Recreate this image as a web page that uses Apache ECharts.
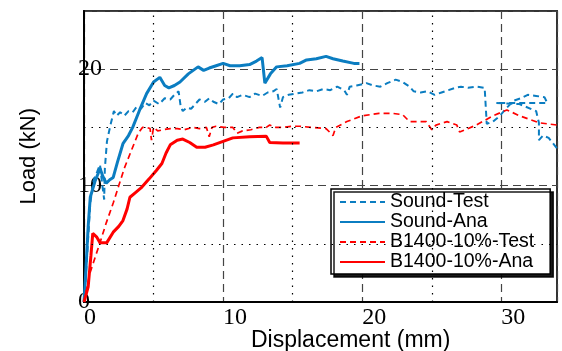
<!DOCTYPE html>
<html>
<head>
<meta charset="utf-8">
<script src="https://cdn.jsdelivr.net/npm/echarts@6/dist/echarts.min.js"></script>
<style>
  html, body { margin: 0; padding: 0; background: #fff; }
  #chart { width: 562px; height: 351px; }
</style>
</head>
<body>
<div id="chart"></div>
<script>
// 图例名称
const seriesNames = ['Sound-Test', 'Sound-Ana', 'B1400-10%-Test', 'B1400-10%-Ana']

// 轴刻度
const xTicks = [0, 10, 20, 30]
const yTicks = [0, 10, 20]
// 次网格线(点线)
const xMinorGrid = [5, 15, 25]
const yMinorGrid = [5, 15]

// Sound-Test  [位移 mm, 荷载 kN]
const soundTest = [
  [0, 0], [0.2, 3.5], [0.45, 8.5], [0.7, 10.5], [0.95, 11.2], [1.15, 11.8], [1.3, 10.2], [1.45, 8.8],
  [1.5, 11.5], [1.65, 13.8], [1.9, 15.2], [2.15, 16.4], [2.35, 16.0], [2.6, 16.3], [2.9, 16.0],
  [3.2, 16.4], [3.5, 16.3], [3.8, 16.8], [4.1, 16.6], [4.4, 17.1], [4.7, 16.9], [5.0, 17.3],
  [5.4, 17.0], [5.8, 17.5], [6.2, 17.4], [6.5, 17.8], [6.8, 18.1], [6.95, 16.8], [7.1, 16.4],
  [7.4, 16.7], [7.7, 16.6], [8.0, 17.0], [8.3, 17.4], [8.7, 17.2], [9.0, 17.5], [9.3, 17.2],
  [9.7, 17.0], [10.0, 17.4], [10.4, 17.5], [10.7, 17.9], [11.0, 17.6], [11.4, 17.8], [11.9, 17.6],
  [12.3, 17.9], [12.8, 17.7], [13.2, 18.0], [13.6, 18.1], [13.85, 18.3], [14.1, 16.7], [14.3, 17.6],
  [14.7, 17.8], [15.2, 17.9], [15.7, 18.0], [16.2, 18.2], [16.7, 18.1], [17.2, 18.3], [17.7, 18.2],
  [18.2, 18.5], [18.7, 18.2], [18.9, 17.8], [19.1, 18.5], [19.6, 18.6], [20.3, 18.8], [20.8, 18.6],
  [21.3, 18.5], [21.8, 18.8], [22.4, 19.1], [22.9, 18.9], [23.4, 18.5], [23.7, 18.1], [24.2, 18.0],
  [24.7, 18.1], [25.2, 17.8], [25.7, 18.0], [26.2, 18.2], [26.7, 18.4], [27.1, 18.5], [27.6, 18.4],
  [28.2, 18.5], [28.8, 18.4], [28.95, 15.3], [29.4, 15.5], [29.9, 16.0], [30.4, 16.7], [30.9, 17.3],
  [31.4, 17.5], [31.9, 17.8], [32.5, 17.7], [33.1, 17.6], [33.3, 17.1], [29.6, 17.1], [31.3, 17.0],
  [32.5, 16.4], [32.7, 15.4], [32.7, 13.9], [33.0, 14.3], [33.4, 14.1], [34, 13.2]
]

// Sound-Ana
const soundAna = [
  [0, 0], [0.1, 2], [0.3, 6.5], [0.45, 9.0], [0.6, 9.6], [0.8, 10.4], [1.0, 11.0], [1.15, 11.5],
  [1.35, 10.8], [1.6, 10.2], [1.85, 10.5], [2.1, 10.7], [2.4, 12.0], [2.8, 13.6], [3.2, 14.3],
  [3.5, 15.0], [4.0, 16.5], [4.5, 17.9], [5.0, 18.9], [5.45, 19.3], [5.8, 18.6], [6.1, 18.4],
  [6.5, 18.6], [6.9, 18.9], [7.5, 19.6], [8.2, 20.2], [8.6, 19.9], [9.0, 20.1], [9.5, 20.3],
  [10.0, 20.5], [10.5, 20.3], [11.2, 20.3], [11.9, 20.4], [12.4, 20.7], [12.8, 21.0], [13.0, 18.8],
  [13.4, 19.6], [13.85, 20.2], [14.6, 20.3], [15.5, 20.5], [16.0, 20.8], [16.7, 20.9], [17.4, 21.1],
  [17.9, 20.9], [18.6, 20.7], [19.4, 20.5], [19.8, 20.5]
]

// B1400-10%-Test
const b1400Test = [
  [0, 0], [0.43, 2.5], [1.15, 5.1], [1.6, 6.8], [2.1, 8.5], [2.5, 10.0], [2.9, 11.5], [3.4, 13.0],
  [3.9, 14.5], [4.2, 15.0], [4.5, 15.0], [4.75, 14.9], [4.85, 13.9], [5.0, 15.0], [5.3, 14.7],
  [5.7, 14.8], [6.2, 14.9], [6.7, 14.9], [7.2, 14.8], [7.8, 15.0], [8.3, 14.9], [8.8, 15.0],
  [9.0, 14.2], [9.2, 15.0], [9.5, 15.1], [10.1, 15.0], [10.7, 15.0], [11.0, 14.5], [11.4, 14.7],
  [12.0, 14.8], [12.6, 15.0], [13.1, 15.0], [13.35, 15.2], [13.8, 15.0], [14.3, 15.0], [15.0, 15.1],
  [15.5, 15.1], [16.4, 15.0], [17.4, 14.9], [17.9, 14.3], [18.1, 15.0], [18.9, 15.5], [20.0, 16.0],
  [21.2, 16.2], [22.2, 16.2], [22.9, 16.1], [23.4, 15.5], [24.6, 15.5], [25.0, 14.8], [25.3, 15.2],
  [26.1, 15.5], [26.8, 15.2], [27.0, 14.6], [28.2, 15.2], [29.4, 16.0], [30.4, 16.5], [31.3, 16.0],
  [32.7, 15.4], [34, 15.2]
]

// B1400-10%-Ana
const b1400Ana = [
  [0, 0], [0.3, 1.3], [0.5, 4.0], [0.63, 5.9], [0.9, 5.6], [1.15, 5.1], [1.64, 5.1], [2.1, 6.0],
  [2.5, 6.5], [2.8, 7.0], [3.1, 8.0], [3.3, 9.0], [3.7, 9.4], [4.1, 9.8], [4.7, 10.6], [5.2, 11.3],
  [5.6, 11.9], [5.9, 12.8], [6.2, 13.5], [6.7, 13.9], [7.1, 14.0], [7.6, 13.7], [8.1, 13.3],
  [8.7, 13.3], [9.3, 13.5], [10.0, 13.8], [10.7, 14.1], [11.9, 14.2], [13.1, 14.25], [13.35, 13.7],
  [14.3, 13.65], [15.5, 13.65]
]

const blue = '#0b7dc1'
const red = '#ff0000'
const serif = '"Liberation Serif", "DejaVu Serif", serif'
const sans = '"Liberation Sans", Arial, sans-serif'

const myChart = echarts.init(document.getElementById('chart'))

const lineSeries = (name, data, color, width, dashed) => ({
  name,
  type: 'line',
  data,
  symbol: 'none',
  z: 3,
  animation: false,
  lineStyle: { color, width, type: dashed ? [6, 4] : 'solid' },
  itemStyle: { color }
})

const option = {
  animation: false,
  grid: {
    left: 84, right: 5, top: 11, bottom: 49,
    show: true, borderColor: '#333', borderWidth: 2
  },
  xAxis: {
    type: 'value', min: 0, max: 34, interval: 10,
    axisLine: { show: true, onZero: false, lineStyle: { color: '#000', width: 2 } },
    axisTick: { show: false },
    axisLabel: {
      showMaxLabel: false, align: 'left', margin: 4,
      fontFamily: serif, fontSize: 24, color: '#000',
      formatter: v => (xTicks.includes(v) ? String(v) : '')
    },
    splitLine: { show: true, lineStyle: { color: '#444', width: 1.2, type: [8, 5] } }
  },
  yAxis: {
    type: 'value', min: 0, max: 25, interval: 10,
    axisLine: { show: true, onZero: false, lineStyle: { color: '#000', width: 2 } },
    axisTick: { show: false },
    axisLabel: {
      showMaxLabel: false, align: 'left', margin: 6,
      fontFamily: serif, fontSize: 24, color: '#000',
      formatter: v => (yTicks.includes(v) ? String(v) : '')
    },
    splitLine: { show: true, lineStyle: { color: '#444', width: 1.2, type: [8, 5] } }
  },
  legend: {
    orient: 'vertical', left: 331, top: 189,
    data: seriesNames,
    itemWidth: 45, itemHeight: 10, itemGap: 0,
    padding: [3, 16, 2, 8],
    itemStyle: { opacity: 0 },
    backgroundColor: '#fff', borderColor: '#000', borderWidth: 1.5,
    shadowColor: 'rgba(0,0,0,0.9)', shadowBlur: 0, shadowOffsetX: 3, shadowOffsetY: 3,
    textStyle: { fontFamily: sans, fontSize: 19.5, color: '#000', lineHeight: 18.7 }
  },
  graphic: [
    {
      type: 'text', left: 18, top: 108, rotation: Math.PI / 2,
      style: { text: 'Load (kN)', fontFamily: sans, fontSize: 22, fill: '#000' }
    },
    {
      type: 'text', left: 251, top: 329,
      style: { text: 'Displacement (mm)', fontFamily: sans, fontSize: 23, fill: '#000' }
    }
  ],
  series: [
    lineSeries(seriesNames[0], soundTest, blue, 2, true),
    lineSeries(seriesNames[1], soundAna, blue, 3, false),
    lineSeries(seriesNames[2], b1400Test, red, 1.7, true),
    lineSeries(seriesNames[3], b1400Ana, red, 3, false),
    // 次网格线: 用 markLine 画在 5,15,25 的位置
    {
      type: 'line', data: [], z: 1, silent: true,
      markLine: {
        silent: true, symbol: 'none', animation: false,
        label: { show: false },
        lineStyle: { color: '#000', width: 1.2, type: [1.5, 6] },
        data: [
          ...xMinorGrid.map(v => ({ xAxis: v })),
          ...yMinorGrid.map(v => ({ yAxis: v }))
        ]
      }
    }
  ]
}

option && myChart.setOption(option)
window.addEventListener('resize', () => {
  myChart.resize()
})
</script>
</body>
</html>
